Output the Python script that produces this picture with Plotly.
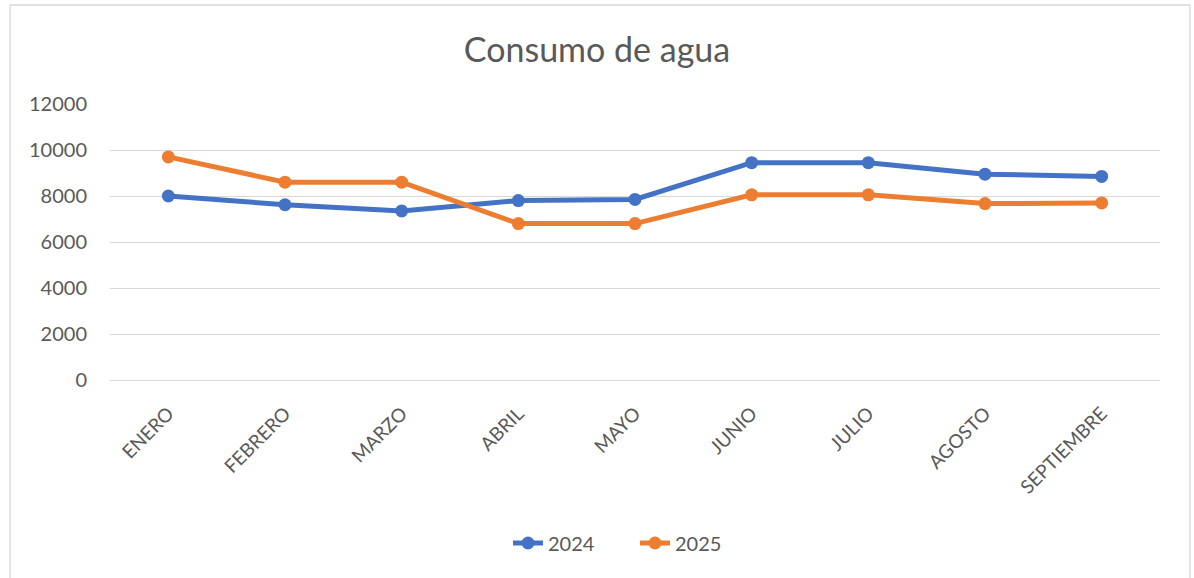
import plotly.graph_objects as go

meses = ["ENERO", "FEBRERO", "MARZO", "ABRIL", "MAYO", "JUNIO", "JULIO", "AGOSTO", "SEPTIEMBRE"]
serie_2024 = [8000, 7620, 7350, 7800, 7850, 9450, 9450, 8950, 8850]
serie_2025 = [9700, 8600, 8600, 6800, 6800, 8050, 8050, 7670, 7700]
y_ticks = [0, 2000, 4000, 6000, 8000, 10000, 12000]

FONT = "Lato, Carlito, Calibri, sans-serif"
GREY = "#595959"

fig = go.Figure()
fig.add_trace(go.Scatter(x=meses, y=serie_2024, name="2024", mode="lines+markers",
                         line=dict(color="#4472C4", width=5),
                         marker=dict(color="#4472C4", size=13)))
fig.add_trace(go.Scatter(x=meses, y=serie_2025, name="2025", mode="lines+markers",
                         line=dict(color="#ED7D31", width=5),
                         marker=dict(color="#ED7D31", size=13)))

fig.update_layout(
    width=1194, height=578,
    margin=dict(l=110, r=34, t=104, b=198),
    paper_bgcolor="white", plot_bgcolor="white",
    font=dict(family=FONT, color=GREY, size=20),
    title=dict(text="Consumo de agua", x=0.5, xanchor="center", y=1 - 50/578, yanchor="middle",
               font=dict(family=FONT, size=34, color=GREY)),
    showlegend=True,
    legend=dict(orientation="h", x=0.5, xanchor="center", y=(380-543)/276, yanchor="middle",
                font=dict(family=FONT, size=20, color=GREY),
                entrywidth=82, entrywidthmode="pixels"),
    xaxis=dict(type="category", range=[-0.5, 8.5], tickangle=-45, showgrid=False,
               showline=True, linecolor="#d9d9d9", linewidth=1, ticks="",
               tickfont=dict(family=FONT, size=19, color=GREY)),
    yaxis=dict(range=[0, 12000], tickvals=y_ticks, ticktext=[str(v) for v in y_ticks],
               showgrid=True, gridcolor="#d9d9d9", gridwidth=1, zeroline=False,
               showline=False, ticks="", ticklen=0,
               tickfont=dict(family=FONT, size=20, color=GREY)),
)
fig.update_yaxes(ticklabelstandoff=22)
fig.update_xaxes(ticklabelstandoff=14)

fig.add_shape(type="rect", xref="paper", yref="paper",
              x0=(10-110)/1050, x1=(1190-110)/1050, y0=(380-600)/276, y1=(380-5)/276,
              line=dict(color="#d9d9d9", width=1.3), fillcolor="rgba(0,0,0,0)", layer="below")

fig.write_html("out.html", config={"displayModeBar": False},
               post_script="document.body.style.margin='0px';")
